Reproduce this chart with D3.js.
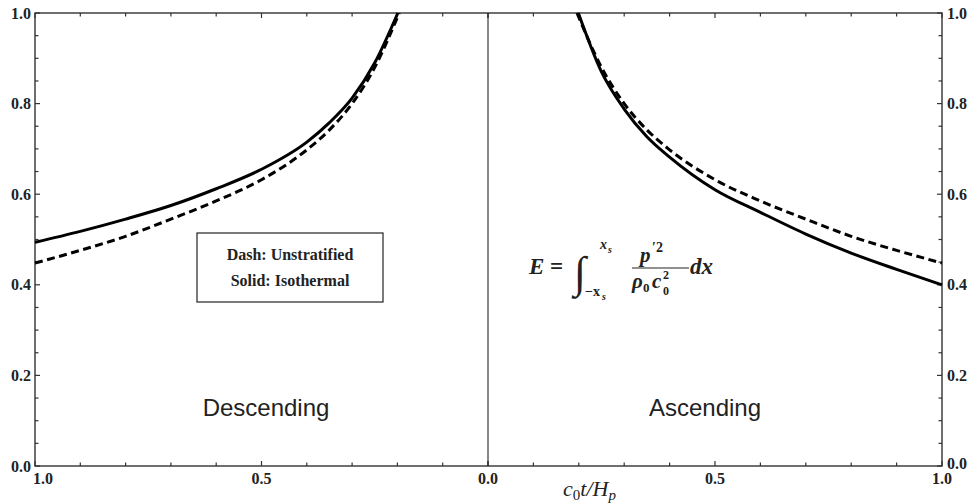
<!DOCTYPE html>
<html>
<head>
<meta charset="utf-8">
<script src="https://cdn.jsdelivr.net/npm/d3@7"></script>
<style>
  body { margin: 0; background: #fff; }
  svg text { fill: #222; }
</style>
</head>
<body>
<div id="chart-container"></div>
<script>
// c0 t / Hp sample positions and energy
const tDesc = [0.199, 0.25, 0.3, 0.35, 0.4, 0.5, 0.6, 0.7, 0.8, 0.9, 1.0];
const descSolid = [1.0, 0.89, 0.812, 0.758, 0.715, 0.655, 0.612, 0.575, 0.545, 0.518, 0.494];
const tDescDash = [0.196, 0.25, 0.3, 0.35, 0.4, 0.5, 0.6, 0.7, 0.8, 0.9, 1.0];
const descDash = [1.0, 0.88, 0.80, 0.742, 0.698, 0.632, 0.585, 0.545, 0.507, 0.476, 0.448];

const tAsc = [0.199, 0.25, 0.3, 0.35, 0.4, 0.5, 0.6, 0.7, 0.8, 0.9, 1.0];
const ascSolid = [1.0, 0.87, 0.788, 0.727, 0.682, 0.610, 0.560, 0.512, 0.470, 0.434, 0.400];
const tAscDash = [0.196, 0.25, 0.3, 0.35, 0.4, 0.5, 0.6, 0.7, 0.8, 0.9, 1.0];
const ascDash = [1.0, 0.88, 0.80, 0.742, 0.698, 0.632, 0.585, 0.545, 0.507, 0.476, 0.448];

const yTickLabels = ["0.0", "0.2", "0.4", "0.6", "0.8", "1.0"];
const xTickLabels = ["1.0", "0.5", "0.0", "0.5", "1.0"];

const width = 969;
const height = 504;
const pad = {left: 35, right: 27, top: 13, bottom: 38};
const midX = 488;
const axisColor = "#333";

const svg = d3.select("#chart-container").append("svg")
    .attr("width", width)
    .attr("height", height);

const xLeft = d3.scaleLinear().domain([1, 0]).range([pad.left, midX]);
const xRight = d3.scaleLinear().domain([0, 1]).range([midX, width - pad.right]);
const y = d3.scaleLinear().domain([0, 1]).range([height - pad.bottom, pad.top]);

// frame
svg.append("rect")
    .attr("x", pad.left).attr("y", pad.top)
    .attr("width", width - pad.right - pad.left)
    .attr("height", height - pad.bottom - pad.top)
    .attr("fill", "none").attr("stroke", axisColor).attr("stroke-width", 1.4);

svg.append("line")
    .attr("x1", midX).attr("x2", midX)
    .attr("y1", y(0)).attr("y2", y(1))
    .attr("stroke", "#111").attr("stroke-width", 1);

// ticks
const minorX = d3.range(0, 11).map(i => i / 10);
const minorY = d3.range(0, 21).map(i => i / 20);
const ticks = svg.append("g").attr("stroke", axisColor).attr("stroke-width", 1.2);

[xLeft, xRight].forEach(sc => {
    minorX.forEach(v => {
        const len = (Math.abs(v * 2 - Math.round(v * 2)) < 1e-6) ? 5 : 3.5;
        ticks.append("line").attr("x1", sc(v)).attr("x2", sc(v))
            .attr("y1", y(0)).attr("y2", y(0) - len);
        ticks.append("line").attr("x1", sc(v)).attr("x2", sc(v))
            .attr("y1", y(1)).attr("y2", y(1) + len);
    });
});

minorY.forEach(v => {
    const len = (Math.abs(v * 5 - Math.round(v * 5)) < 1e-6) ? 5 : 3.5;
    ticks.append("line").attr("x1", pad.left).attr("x2", pad.left + len)
        .attr("y1", y(v)).attr("y2", y(v));
    ticks.append("line").attr("x1", width - pad.right).attr("x2", width - pad.right - len)
        .attr("y1", y(v)).attr("y2", y(v));
});

// tick labels
const labelFont = "'Liberation Serif', 'DejaVu Serif', serif";
const tickSize = "16px";
yTickLabels.forEach(lbl => {
    const v = +lbl;
    svg.append("text")
        .attr("x", pad.left - 4).attr("y", y(v)).attr("dy", "0.35em")
        .attr("text-anchor", "end")
        .style("font-family", labelFont).style("font-weight", "bold").style("font-size", tickSize)
        .text(lbl);
    svg.append("text")
        .attr("x", width - pad.right + 5).attr("y", y(v) - (v === 0 ? 3 : 0)).attr("dy", "0.35em")
        .attr("text-anchor", "start")
        .style("font-family", labelFont).style("font-weight", "bold").style("font-size", tickSize)
        .text(lbl);
});

const xTickPos = [xLeft(1), xLeft(0.5), midX, xRight(0.5), xRight(1)];
xTickLabels.forEach((lbl, i) => {
    svg.append("text")
        .attr("x", xTickPos[i] + (i === 0 ? 8 : 0)).attr("y", y(0) + 18)
        .attr("text-anchor", "middle")
        .style("font-family", labelFont).style("font-weight", "bold").style("font-size", tickSize)
        .text(lbl);
});

// axis title c0 t / Hp
const xTitle = svg.append("text")
    .attr("x", 563).attr("y", 496)
    .style("font-family", labelFont).style("font-style", "italic").style("font-size", "22px");
xTitle.append("tspan").text("c");
xTitle.append("tspan").attr("dy", 4).style("font-size", "15px").style("font-style", "normal").text("0");
xTitle.append("tspan").attr("dy", -4).text("t/H");
xTitle.append("tspan").attr("dy", 4).style("font-size", "15px").text("p");

// curves
function drawCurve(ts, es, sc, dashed) {
    const pts = ts.map((t, i) => [sc(t), y(es[i])]).sort((a, b) => a[0] - b[0]);
    const line = d3.line().curve(d3.curveMonotoneX);
    svg.append("path")
        .attr("d", line(pts))
        .attr("fill", "none")
        .attr("stroke", "#000")
        .attr("stroke-width", 3)
        .attr("stroke-dasharray", dashed ? "8,4.5" : null);
}

drawCurve(tDescDash, descDash, xLeft, true);
drawCurve(tDesc, descSolid, xLeft, false);
drawCurve(tAscDash, ascDash, xRight, true);
drawCurve(tAsc, ascSolid, xRight, false);

// legend box
svg.append("rect")
    .attr("x", 197).attr("y", 233).attr("width", 186).attr("height", 69)
    .attr("fill", "#fff").attr("stroke", "#222").attr("stroke-width", 1.2);
svg.append("text").attr("x", 290).attr("y", 260).attr("text-anchor", "middle")
    .style("font-family", labelFont).style("font-weight", "bold").style("font-size", "16px").text("Dash: Unstratified");
svg.append("text").attr("x", 290).attr("y", 286).attr("text-anchor", "middle")
    .style("font-family", labelFont).style("font-weight", "bold").style("font-size", "16px").text("Solid: Isothermal");

// region labels
const sansFont = "'Liberation Sans', Arial, sans-serif";
svg.append("text").attr("x", 266).attr("y", 416).attr("text-anchor", "middle")
    .style("font-family", sansFont).style("font-size", "24px").text("Descending");
svg.append("text").attr("x", 705).attr("y", 416).attr("text-anchor", "middle")
    .style("font-family", sansFont).style("font-size", "24px").text("Ascending");

// energy formula
const fg = svg.append("g").style("font-family", labelFont).style("font-weight", "bold");
fg.append("text").attr("x", 529).attr("y", 274)
    .style("font-style", "italic").style("font-size", "23px").text("E");
fg.append("text").attr("x", 550).attr("y", 274)
    .style("font-size", "23px").text("=");
fg.append("text").attr("x", 574).attr("y", 287)
    .style("font-size", "44px").style("font-style", "italic").style("font-weight", "normal").text("\u222B");
fg.append("text").attr("x", 600).attr("y", 249)
    .style("font-style", "italic").style("font-size", "14px").text("x");
fg.append("text").attr("x", 608).attr("y", 253)
    .style("font-style", "italic").style("font-size", "10px").text("s");
fg.append("text").attr("x", 585).attr("y", 296)
    .style("font-size", "14px").text("\u2212x");
fg.append("text").attr("x", 602).attr("y", 300)
    .style("font-style", "italic").style("font-size", "10px").text("s");
fg.append("text").attr("x", 640).attr("y", 262)
    .style("font-style", "italic").style("font-size", "21px").text("p");
fg.append("text").attr("x", 652).attr("y", 252)
    .style("font-size", "14px").text("\u20322");
fg.append("line").attr("x1", 632).attr("x2", 689).attr("y1", 268).attr("y2", 268)
    .attr("stroke", "#222").attr("stroke-width", 1.2);
fg.append("text").attr("x", 632).attr("y", 288)
    .style("font-style", "italic").style("font-size", "21px").text("\u03C1");
fg.append("text").attr("x", 643).attr("y", 292)
    .style("font-size", "13px").text("0");
fg.append("text").attr("x", 652).attr("y", 288)
    .style("font-style", "italic").style("font-size", "21px").text("c");
fg.append("text").attr("x", 663).attr("y", 279)
    .style("font-size", "12px").text("2");
fg.append("text").attr("x", 663).attr("y", 295)
    .style("font-size", "12px").text("0");
fg.append("text").attr("x", 690).attr("y", 274)
    .style("font-style", "italic").style("font-size", "23px").text("dx");
</script>
</body>
</html>
